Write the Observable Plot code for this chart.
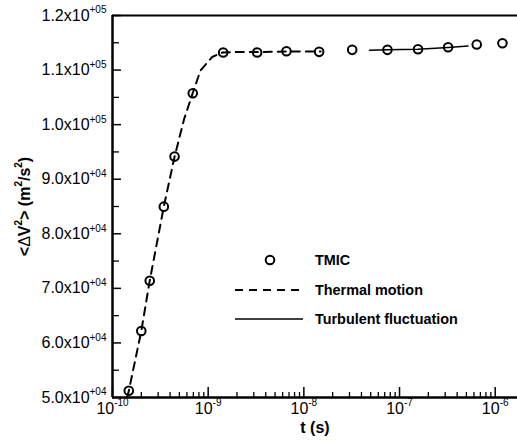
<!DOCTYPE html>
<html><head><meta charset="utf-8">
<script src="https://cdn.jsdelivr.net/npm/d3@7"></script>
<script src="https://cdn.jsdelivr.net/npm/@observablehq/plot@0.6"></script>
<style>
body{margin:0;background:#fff;}
#wrap{position:relative;width:517px;height:448px;font-family:"Liberation Sans",Arial,sans-serif;}
#legend{position:absolute;left:0;top:0;pointer-events:none;}
</style></head><body><div id="wrap"></div>
<script>
// TMIC simulation points
const tmicT = [1.48e-10, 2.0e-10, 2.45e-10, 3.44e-10, 4.45e-10, 6.9e-10, 1.435e-9, 3.25e-9, 6.58e-9, 1.445e-8, 3.2e-8, 7.48e-8, 1.56e-7, 3.22e-7, 6.41e-7, 1.19e-6];
const tmicV = [51230, 62180, 71400, 84970, 94140, 105750, 113210, 113210, 113450, 113340, 113710, 113710, 113820, 114180, 114680, 114920];
// Thermal motion (dashed)
const thermalT = [1.42e-10, 1.48e-10, 2.0e-10, 2.45e-10, 3.44e-10, 4.45e-10, 5.6e-10, 6.9e-10, 8.3e-10, 1.1e-9, 1.4e-9, 2.0e-9, 3.25e-9, 6.6e-9, 1.5e-8];
const thermalV = [50000, 51200, 62200, 71400, 85000, 94100, 101000, 105800, 109900, 112400, 113200, 113300, 113300, 113400, 113400];
// Turbulent fluctuation (solid)
const turbT = [4.85e-8, 7.48e-8, 1.56e-7, 3.22e-7, 5.2e-7];
const turbV = [113650, 113710, 113820, 114150, 114420];

const xMajorTicks = [1e-10, 1e-9, 1e-8, 1e-7, 1e-6];
const xTickLabels = ["10^{-10}", "10^{-9}", "10^{-8}", "10^{-7}", "10^{-6}"];
const xMinorMult = [2, 3, 4, 5, 6, 7, 8, 9];
const yMajorTicks = [50000, 60000, 70000, 80000, 90000, 100000, 110000, 120000];
const yTickLabels = ["5.0x10^{+04}", "6.0x10^{+04}", "7.0x10^{+04}", "8.0x10^{+04}", "9.0x10^{+04}", "1.0x10^{+05}", "1.1x10^{+05}", "1.2x10^{+05}"];
const yMinorTicks = [55000, 65000, 75000, 85000, 95000, 105000, 115000];
const xTitle = "t (s)";
const yTitle = "<ΔV^{2}> (m^{2}/s^{2})";
const legendLabels = ["TMIC", "Thermal motion", "Turbulent fluctuation"];

const xMinorTicks = xMajorTicks.flatMap(d => xMinorMult.map(m => d * m)).filter(d => d < 1.71e-6);
const tmic = tmicT.map((t, i) => ({t, v: tmicV[i]}));
const thermal = thermalT.map((t, i) => ({t, v: thermalV[i]}));
const turb = turbT.map((t, i) => ({t, v: turbV[i]}));

const W = 517, H = 448, mL = 112, mR = 0, mT = 15, mB = 51;
const innerW = W - mL - mR, innerH = H - mT - mB;

const chart = Plot.plot({
  width: W, height: H, marginLeft: mL, marginRight: mR, marginTop: mT, marginBottom: mB,
  style: {fontFamily: "'Liberation Sans', Arial, sans-serif", background: "white", color: "black", overflow: "visible"},
  x: {type: "log", domain: [1e-10, 1.71e-6], axis: null},
  y: {domain: [50000, 120000], axis: null},
  marks: [
    Plot.line(thermal, {x: "t", y: "v", stroke: "black", strokeWidth: 2, strokeDasharray: "8,6", clip: true}),
    Plot.line(turb, {x: "t", y: "v", stroke: "black", strokeWidth: 1.5}),
    Plot.dot(tmic, {x: "t", y: "v", r: 4.3, stroke: "black", strokeWidth: 2, fill: "none"}),
    Plot.ruleX(xMajorTicks, {x: d => d, insetTop: innerH - 10, stroke: "black", strokeWidth: 1.5}),
    Plot.ruleX(xMinorTicks, {x: d => d, insetTop: innerH - 5, stroke: "black", strokeWidth: 1.3}),
    Plot.ruleY(yMajorTicks, {y: d => d, insetRight: innerW - 9, stroke: "black", strokeWidth: 1.5}),
    Plot.ruleY(yMinorTicks, {y: d => d, insetRight: innerW - 7, stroke: "black", strokeWidth: 1.3}),
    Plot.ruleX([1e-10], {stroke: "black", strokeWidth: 2.5}),
    Plot.ruleY([50000], {stroke: "black", strokeWidth: 2.5}),
    Plot.ruleY([120000], {stroke: "black", strokeWidth: 2}),
    Plot.text(xMajorTicks, {x: d => d, frameAnchor: "bottom", dy: 16, text: d => xTickLabels[xMajorTicks.indexOf(d)], fontSize: 16, fill: "black", className: "supfix"}),
    Plot.text(yMajorTicks, {y: d => d, frameAnchor: "left", dx: -6, textAnchor: "end", text: d => yTickLabels[yMajorTicks.indexOf(d)], fontSize: 16, fill: "black", className: "supfix"}),
    Plot.text([xTitle], {frameAnchor: "bottom", dy: 35, text: d => d, fontSize: 16, fontWeight: "bold", fill: "black", className: "supfix"}),
    Plot.text([yTitle], {frameAnchor: "left", dx: -88, rotate: -90, textAnchor: "middle", text: d => d, fontSize: 16, fontWeight: "bold", fill: "black", className: "supfix"})
  ]
});

// build superscripts
const NS = "http://www.w3.org/2000/svg";
chart.querySelectorAll("g.supfix text").forEach(el => {
  const s = el.textContent;
  if (!s.includes("^{") && !s.includes("Δ")) return;
  const big = parseFloat(el.closest("g").getAttribute("font-size")) || 16;
  el.textContent = "";
  const re = /\^\{([^}]*)\}/g;
  let last = 0, m, raised = false;
  const add = (txt, sup) => {
    if (!txt) return;
    const parts = txt.split(/(Δ)/);
    parts.forEach(p => {
      if (!p) return;
      const ts = document.createElementNS(NS, "tspan");
      ts.textContent = p;
      if (sup) {
        ts.setAttribute("font-size", Math.round(big * 0.62));
        if (!raised) { ts.setAttribute("dy", -big * 0.45); raised = true; }
      } else {
        if (raised) { ts.setAttribute("dy", big * 0.45); raised = false; }
      }
      if (p === "Δ") ts.setAttribute("font-weight", "normal");
      el.appendChild(ts);
    });
  };
  while ((m = re.exec(s))) {
    add(s.slice(last, m.index), false);
    add(m[1], true);
    last = re.lastIndex;
  }
  add(s.slice(last), false);
});

const wrap = document.getElementById("wrap");
wrap.appendChild(chart);

// legend overlay
const lg = document.createElementNS(NS, "svg");
lg.setAttribute("id", "legend");
lg.setAttribute("width", W); lg.setAttribute("height", H);
const rows = [260, 290, 319];
const mk = (tag, attrs) => { const e = document.createElementNS(NS, tag); for (const k in attrs) e.setAttribute(k, attrs[k]); lg.appendChild(e); return e; };
mk("circle", {cx: 270, cy: rows[0], r: 4.3, fill: "none", stroke: "black", "stroke-width": 2});
mk("line", {x1: 235, x2: 299, y1: rows[1], y2: rows[1], stroke: "black", "stroke-width": 2, "stroke-dasharray": "8,6"});
mk("line", {x1: 235, x2: 303, y1: rows[2], y2: rows[2], stroke: "black", "stroke-width": 1.5});
legendLabels.forEach((t, i) => {
  const e = mk("text", {x: 315, y: rows[i], dy: "0.35em", "font-size": 14.4, "font-weight": "bold", "font-family": "'Liberation Sans', Arial, sans-serif", fill: "black"});
  e.textContent = t;
});
wrap.appendChild(lg);
</script></body></html>
